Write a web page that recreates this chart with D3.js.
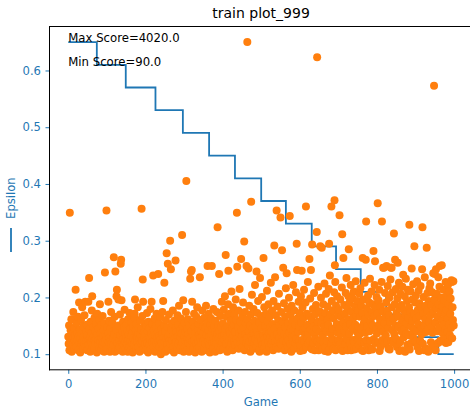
<!DOCTYPE html>
<html><head><meta charset="utf-8">
<script src="https://cdn.jsdelivr.net/npm/d3@7/dist/d3.min.js"></script>
<style>body{margin:0;background:#fff}svg{display:block}</style>
</head><body>
<svg id="c" width="470" height="412"></svg>
<script>
const titleText = "train plot_999";
const xLabel = "Game";
const yLabel = "Epsilon";
const maxScoreText = "Max Score=4020.0";
const minScoreText = "Min Score=90.0";
const xTicks = [0, 200, 400, 600, 800, 1000];
const yTicks = [0.1, 0.2, 0.3, 0.4, 0.5, 0.6];
const epsStepGames = [0, 74, 149, 226, 297, 365, 432, 500, 564, 631, 694, 758, 824, 889, 959, 999];
const epsLevels = [0.65, 0.61, 0.57, 0.53, 0.49, 0.45, 0.41, 0.37, 0.33, 0.29, 0.25, 0.21, 0.17, 0.13, 0.10, 0.10];
const scores = [
310,220,450,140,1870,260,390,240,530,120,280,350,210,620,300,160,420,260,330,900,230,480,180,360,270,560,140,310,740,240,400,110,290,520,220,350,680,250,160,440,310,230,580,270,750,180,370,260,460,140,
330,250,750,210,1050,400,290,120,500,240,360,640,820,280,180,430,310,160,550,260,380,220,470,300,110,600,340,230,410,270,160,520,720,250,350,140,460,290,210,570,320,240,390,120,480,1120,260,340,180,1900,
280,430,160,350,750,240,510,300,120,410,260,620,220,370,140,480,290,210,1310,340,560,120,1130,260,400,820,900,230,310,140,780,450,270,180,590,330,1230,1280,770,240,380,120,500,280,210,430,650,250,350,160,
300,460,220,380,120,530,270,340,180,610,250,410,140,320,490,230,360,110,440,290,210,550,600,780,260,390,160,470,310,240,680,350,180,420,280,120,520,330,230,400,1920,260,570,1030,750,160,360,290,480,220,
340,140,450,270,610,230,380,110,500,300,210,420,280,660,160,350,750,240,470,310,1080,180,390,260,540,120,330,440,220,600,290,140,370,1100,250,480,320,180,560,270,90,410,230,340,620,160,760,300,450,990,
240,380,120,520,280,1360,210,430,1230,310,160,590,260,350,1520,220,1160,400,140,480,270,640,180,330,110,510,290,230,1270,420,250,370,160,580,310,220,460,700,260,140,390,300,540,210,350,1590,240,440,770,120,
320,480,180,370,260,620,2270,140,410,290,530,230,340,120,450,280,1040,210,1130,380,1150,750,250,500,160,330,600,270,430,110,360,220,560,300,680,160,400,250,470,330,180,1060,290,520,230,380,120,640,310,440,
260,360,160,550,280,420,220,700,330,140,480,1200,250,390,600,210,310,110,460,270,540,350,1200,230,410,160,660,300,440,240,370,120,510,280,220,620,340,1690,180,450,290,1100,380,140,570,260,430,210,750,320,
240,480,160,650,330,270,820,410,1340,220,560,300,120,440,720,1140,260,380,600,180,350,510,230,880,290,420,140,680,330,460,250,590,210,370,780,280,520,1870,1190,240,430,640,160,350,910,270,500,220,1290,390,
310,560,180,740,260,420,1510,140,620,340,480,230,1200,290,4020,530,210,1170,380,700,250,450,120,590,2010,320,840,270,410,160,660,350,230,510,960,280,440,180,1130,370,610,240,760,330,140,490,120,1050,300,570,
260,420,810,210,540,330,1300,160,680,280,450,230,600,370,120,890,310,500,240,720,350,180,560,290,430,990,220,380,640,260,470,140,760,320,1460,410,1060,250,580,180,1900,340,690,270,520,160,850,300,450,230,
1810,380,620,210,1400,290,500,1180,260,730,340,140,560,430,920,240,1110,310,660,180,480,270,800,360,1830,220,590,410,120,700,300,520,250,960,390,160,640,330,460,230,870,280,1480,1150,540,180,370,750,260,440,
610,130,210,820,490,1140,270,680,380,140,550,900,240,420,330,740,1950,180,600,290,460,1000,350,220,570,1290,260,790,400,1150,160,520,1470,150,660,230,440,860,340,140,590,280,710,410,1630,3830,250,500,940,140,
210,630,370,1450,270,800,480,1430,160,560,330,720,240,430,980,130,610,180,850,380,260,520,690,120,460,910,1480,150,1080,590,350,220,1950,760,410,280,640,160,540,870,2030,1210,1000,140,700,240,470,820,360,580,
270,650,420,1840,210,780,340,560,160,930,1600,130,490,1300,250,710,380,600,220,860,440,1050,290,670,140,530,820,1410,350,740,230,470,960,140,620,180,410,790,270,550,880,150,240,690,460,1010,160,580,370,760,
290,640,430,210,850,340,560,920,250,700,400,140,610,1300,130,780,480,230,990,530,360,1280,1760,270,670,440,180,830,590,140,740,380,1040,260,500,160,880,620,150,450,720,1390,280,570,960,1260,230,680,410,810,
350,600,1990,240,770,460,900,130,530,180,690,410,1000,1760,270,630,1180,370,1180,480,220,860,560,330,740,1200,250,640,950,420,160,580,800,150,500,1030,1180,260,1180,680,390,870,230,540,1610,340,720,1280,450,910,
280,610,180,790,1240,430,560,990,130,670,240,850,470,380,710,140,940,520,1090,300,640,410,820,120,590,1040,350,480,760,210,900,550,330,680,1720,150,620,880,440,230,1170,510,780,360,970,290,600,1450,410,740,
250,830,540,380,1010,180,650,470,890,130,730,570,260,950,420,680,340,1160,1690,220,600,810,450,140,1060,530,700,370,160,1430,640,860,400,120,760,500,920,150,980,580,240,710,440,870,360,620,1110,210,3470,780,
1100,490,140,1160,670,850,380,560,230,1060,720,430,940,1200,260,610,800,250,1210,510,690,350,900,460,280,770,590,400,1000,230,650,830,370,540,960,240,720,470,880,330,600,790,420,1020,1000,290,680,520,1010,450
];

const blue = "#1f77b4", orange = "#ff7f0e";
const font = "DejaVu Sans, Verdana, sans-serif";
const L = 49, R = 473, T = 26.5, B = 369.8;
const svg = d3.select("#c");

const games = scores.map((s, i) => i);
const padX = 0.05 * (d3.max(games) - d3.min(games));
const x = d3.scaleLinear().domain([d3.min(games) - padX, d3.max(games) + padX]).range([L, R]);
const eExt = d3.extent(epsLevels), padE = 0.05 * (eExt[1] - eExt[0]);
const yE = d3.scaleLinear().domain([eExt[0] - padE, eExt[1] + padE]).range([B, T]);
const sExt = d3.extent(scores), padS = 0.05 * (sExt[1] - sExt[0]);
const yS = d3.scaleLinear().domain([sExt[0] - padS, sExt[1] + padS]).range([B, T]);

svg.append("defs").append("clipPath").attr("id", "pa")
  .append("rect").attr("x", L).attr("y", T).attr("width", R - L).attr("height", B - T);

// epsilon step line
const line = d3.line().x((d, i) => x(epsStepGames[i])).y(d => yE(d)).curve(d3.curveStepAfter);
svg.append("path").datum(epsLevels).attr("d", line)
  .attr("fill", "none").attr("stroke", blue).attr("stroke-width", 1.8);

// scatter on twin axis
svg.append("g").attr("clip-path", "url(#pa)").selectAll("circle").data(scores).join("circle")
  .attr("cx", (d, i) => x(games[i])).attr("cy", d => yS(d)).attr("r", 4)
  .attr("fill", orange);

// axes
const ax = d3.axisBottom(x).tickValues(xTicks).tickSize(4).tickPadding(6).tickFormat(d3.format("d"));
const gx = svg.append("g").attr("transform", `translate(0,${B})`).call(ax);
const ay = d3.axisLeft(yE).tickValues(yTicks).tickSize(4).tickPadding(4.5).tickFormat(d3.format(".1f"));
const gy = svg.append("g").attr("transform", `translate(${L + 0.5},0)`).call(ay);
[gx, gy].forEach(g => {
  g.select(".domain").remove();
  g.selectAll(".tick line").attr("stroke", blue).attr("stroke-width", 1);
  g.selectAll(".tick text").attr("fill", blue).attr("font-family", font).attr("font-size", 11.6);
});

// spines
svg.append("line").attr("x1", L + 0.5).attr("x2", L + 0.5).attr("y1", T).attr("y2", B + 0.5).attr("stroke", "#000").attr("stroke-width", 1);
svg.append("line").attr("x1", L).attr("x2", R).attr("y1", B).attr("y2", B).attr("stroke", "#000").attr("stroke-width", 1);
svg.append("line").attr("x1", L).attr("x2", R).attr("y1", T).attr("y2", T).attr("stroke", "#000").attr("stroke-width", 1);
svg.append("line").attr("x1", R).attr("x2", R).attr("y1", T).attr("y2", B).attr("stroke", "#000").attr("stroke-width", 1);

// texts
svg.append("text").attr("x", (L + R) / 2).attr("y", 18).attr("text-anchor", "middle")
  .attr("font-family", font).attr("font-size", 14).attr("fill", "#000").text(titleText);
svg.append("text").attr("x", (L + R) / 2).attr("y", 406).attr("text-anchor", "middle")
  .attr("font-family", font).attr("font-size", 11.6).attr("fill", blue).text(xLabel);
svg.append("text").attr("transform", `translate(15.2,${(T + B) / 2}) rotate(-90)`).attr("text-anchor", "middle")
  .attr("font-family", font).attr("font-size", 11.6).attr("fill", blue).text(yLabel);
svg.append("line").attr("x1", 11).attr("x2", 11).attr("y1", 228).attr("y2", 252)
  .attr("stroke", blue).attr("stroke-width", 1.8);
svg.append("text").attr("x", x(0)).attr("y", yE(0.65)).attr("font-family", font).attr("font-size", 11.7)
  .attr("fill", "#000").text(maxScoreText);
svg.append("text").attr("x", x(0)).attr("y", yE(0.6075)).attr("font-family", font).attr("font-size", 11.7)
  .attr("fill", "#000").text(minScoreText);
</script>
</body></html>
